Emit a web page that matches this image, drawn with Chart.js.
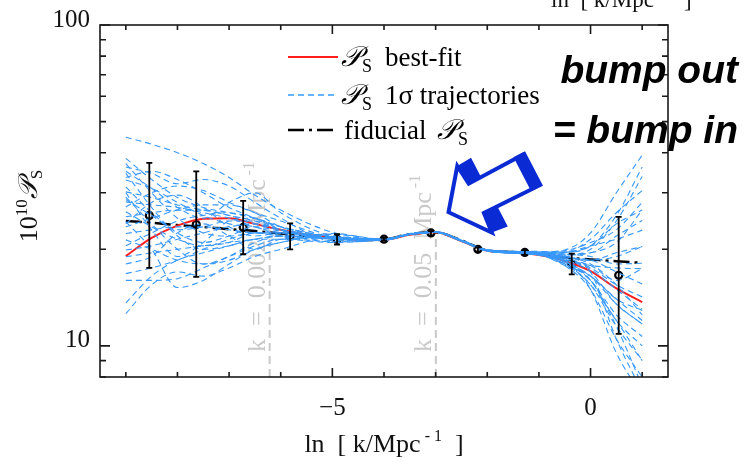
<!DOCTYPE html>
<html>
<head>
<meta charset="utf-8">
<script src="https://cdn.jsdelivr.net/npm/chart.js@4/dist/chart.umd.min.js"></script>
<style>
  html, body { margin: 0; padding: 0; background: #fff; }
  canvas { display: block; }
</style>
</head>
<body>
<canvas id="c" width="750" height="464"></canvas>
<script>
// ---- data -----------------------------------------------------------------
// ln k grid used for the fiducial and best-fit spectra
const lnkGrid = [-9, -8.5, -8, -7.5, -7, -6.5, -6, -5.5, -5, -4.5, -4, -3.5, -3, -2.5, -2, -1.5, -1, -0.5, 0, 0.5, 1];
const fiducialPS = [24.5, 24.2, 23.8, 23.5, 23.1, 22.8, 22.4, 22.0, 21.65, 21.35, 21.45, 22.3, 22.6, 21.3, 19.85, 19.6, 19.4, 18.85, 18.6, 18.35, 18.15];
const bestFitPS = [19.05, 21.7, 23.7, 24.9, 25.0, 24.0, 23.0, 22.2, 21.8, 21.4, 21.4, 22.2, 22.6, 21.2, 19.8, 19.6, 19.2, 18.4, 17.1, 15.1, 13.7];

// binned reconstruction: centres, values and 1-sigma limits
const binLnk = [-8.545, -7.636, -6.727, -5.818, -4.909, -4.0, -3.091, -2.182, -1.273, -0.364, 0.545];
const binPS = [25.5, 23.9, 23.4, 22.0, 21.5, 21.5, 22.5, 20.0, 19.55, 18.0, 16.6];
const binLow = [17.5, 16.4, 19.3, 20.0, 20.7, 21.3, 22.1, 19.7, 19.2, 16.7, 10.9];
const binHigh = [37.2, 35.0, 28.3, 24.1, 22.3, 21.7, 22.8, 20.3, 19.9, 19.4, 25.25];

// ln k grid and values of the 1-sigma trajectories
const trajLnk = [-9, -8.5, -8, -7.5, -7, -6.5, -6, -5, -4, -3.5, -3, -2.5, -2, -1, -0.5, 0, 0.5, 1];
const trajectoryPS = [
  [44.7, 42.5, 40.0, 37.0, 33.5, 29.5, 26.5, 22.6, 21.5, 22.3, 22.7, 21.3, 19.9, 19.5, 19.6, 21.5, 26.0, 30.5],
  [38.4, 33.0, 29.0, 27.0, 26.0, 25.0, 23.5, 21.9, 21.4, 22.3, 22.6, 21.3, 19.8, 19.2, 18.2, 16.5, 13.5, 11.7],
  [36.1, 34.5, 32.0, 33.0, 31.5, 28.0, 25.0, 21.3, 21.5, 22.4, 22.7, 21.4, 19.9, 19.6, 19.9, 22.5, 30.0, 39.3],
  [34.5, 27.0, 22.0, 20.0, 20.5, 21.5, 21.5, 21.7, 21.4, 22.3, 22.6, 21.3, 19.8, 19.4, 18.6, 17.3, 15.0, 13.0],
  [32.9, 31.0, 28.0, 25.5, 24.0, 23.5, 22.0, 21.2, 21.5, 22.3, 22.6, 21.2, 19.8, 19.3, 18.0, 15.5, 11.5, 9.0],
  [31.3, 26.0, 22.5, 21.0, 22.0, 23.5, 22.8, 22.0, 21.4, 22.2, 22.6, 21.3, 19.9, 19.6, 19.3, 19.5, 22.0, 24.6],
  [30.2, 29.0, 27.5, 26.5, 25.5, 24.0, 23.0, 21.6, 21.4, 22.3, 22.6, 21.3, 19.8, 19.2, 18.5, 17.8, 17.5, 17.4],
  [29.1, 24.0, 20.0, 18.0, 18.5, 20.0, 21.0, 22.3, 21.5, 22.3, 22.6, 21.3, 19.9, 19.7, 19.6, 20.5, 24.0, 26.5],
  [28.1, 27.5, 27.0, 26.0, 25.0, 23.5, 22.5, 21.1, 21.4, 22.3, 22.6, 21.2, 19.8, 19.2, 17.8, 15.0, 10.5, 8.0],
  [27.1, 30.0, 31.5, 30.5, 28.0, 26.0, 23.5, 21.6, 21.5, 22.3, 22.6, 21.3, 19.9, 19.5, 19.0, 18.5, 19.0, 20.4],
  [26.2, 23.5, 21.5, 20.5, 21.0, 22.5, 22.0, 21.9, 21.4, 22.3, 22.7, 21.3, 19.8, 19.3, 18.3, 16.0, 12.5, 10.7],
  [25.25, 26.0, 26.5, 26.5, 25.5, 24.5, 23.0, 21.6, 21.4, 22.2, 22.6, 21.3, 19.8, 19.4, 19.2, 20.0, 24.5, 33.7],
  [24.4, 20.0, 15.2, 16.0, 18.0, 20.0, 21.0, 22.4, 21.5, 22.3, 22.6, 21.3, 19.9, 19.5, 18.8, 17.5, 15.5, 14.2],
  [23.5, 25.0, 26.5, 27.5, 27.5, 26.0, 24.5, 21.8, 21.4, 22.3, 22.6, 21.3, 19.8, 19.3, 18.0, 15.5, 12.0, 9.0],
  [22.4, 23.0, 23.5, 23.5, 23.0, 22.5, 22.5, 21.6, 21.4, 22.3, 22.6, 21.3, 19.8, 19.4, 19.5, 20.5, 21.5, 22.95],
  [21.4, 20.0, 18.5, 18.0, 19.0, 20.5, 21.5, 21.0, 21.5, 22.3, 22.6, 21.3, 19.9, 19.4, 18.5, 16.0, 11.5, 7.5],
  [19.9, 20.5, 21.5, 22.5, 23.5, 24.0, 23.0, 21.6, 21.4, 22.3, 22.6, 21.2, 19.8, 19.5, 19.3, 19.0, 18.0, 18.1],
  [18.95, 19.5, 20.0, 20.5, 21.0, 21.5, 22.0, 21.7, 21.4, 22.3, 22.6, 21.3, 19.8, 19.3, 18.5, 17.0, 13.5, 11.7],
  [16.8, 17.5, 18.5, 20.0, 21.5, 22.5, 22.5, 21.6, 21.4, 22.3, 22.6, 21.3, 19.9, 19.6, 19.6, 20.5, 25.5, 36.1],
  [16.0, 16.0, 16.2, 17.5, 19.0, 21.0, 22.0, 21.7, 21.5, 22.2, 22.6, 21.3, 19.8, 19.3, 17.8, 16.5, 14.0, 12.9],
  [13.6, 16.5, 18.5, 19.5, 20.5, 21.5, 22.0, 21.7, 21.4, 22.3, 22.6, 21.3, 19.9, 19.4, 18.8, 18.5, 17.0, 15.6],
  [12.6, 15.5, 17.0, 16.5, 17.5, 19.0, 20.0, 21.8, 21.5, 22.3, 22.6, 21.3, 19.8, 19.2, 18.0, 16.0, 12.0, 10.0],
  [37.0, 30.0, 25.0, 22.5, 22.0, 22.5, 22.0, 21.6, 21.4, 22.3, 22.6, 21.3, 19.8, 19.4, 19.0, 18.5, 19.5, 20.4],
  [33.5, 35.0, 33.0, 30.0, 27.0, 25.0, 23.0, 21.5, 21.4, 22.3, 22.6, 21.3, 19.9, 19.5, 18.5, 15.0, 9.5, 7.0],
  [28.6, 25.5, 23.0, 23.5, 24.5, 24.5, 23.5, 21.8, 21.5, 22.3, 22.6, 21.3, 19.8, 19.4, 19.2, 19.5, 21.0, 26.5],
  [20.5, 22.5, 24.5, 25.5, 26.0, 25.0, 23.5, 21.6, 21.4, 22.3, 22.6, 21.2, 19.8, 19.3, 18.7, 17.8, 16.0, 17.4],
  [35.0, 31.0, 27.0, 25.0, 28.0, 30.0, 26.0, 22.0, 21.4, 22.3, 22.6, 21.3, 19.8, 19.3, 18.3, 16.5, 14.0, 12.0],
  [24.0, 28.0, 29.5, 27.0, 23.5, 22.0, 22.5, 21.7, 21.5, 22.3, 22.6, 21.3, 19.9, 19.6, 19.8, 21.0, 23.0, 28.0],
  [18.0, 19.0, 22.5, 24.0, 22.0, 20.0, 21.5, 21.8, 21.4, 22.3, 22.6, 21.2, 19.8, 19.4, 18.9, 18.0, 15.5, 12.5],
  [30.0, 23.0, 19.0, 21.0, 24.5, 25.0, 23.0, 21.6, 21.4, 22.3, 22.6, 21.3, 19.8, 19.5, 19.1, 17.0, 10.5, 7.2]
];

// pivot-scale markers (k in Mpc^-1) and the spectrum value where each marker stops
const pivotK = [0.002, 0.05];
const pivotText = ['k  =  0.002  Mpc', 'k  =  0.05  Mpc'];
const pivotTopPS = [23.0, 22.6];

// axis ticks
const xTickValues = [-9, -8, -7, -6, -5, -4, -3, -2, -1, 0, 1];
const xTickLabels = {'-5': '\u22125', '0': '0'};
const yTickValues = [8, 9, 10, 20, 30, 40, 50, 60, 70, 80, 90, 100];
const yTickLabels = {'10': '10', '100': '100'};

// ---- styling helpers --------------------------------------------------------
const SERIF = '"Liberation Serif", "Times New Roman", serif';
const SCRIPT = '"DejaVu Serif", "DejaVu Sans", "Noto Sans", serif';
const BLUE = 'rgb(55,152,252)';
const RED = '#ff1f1f';

function richWidth(ctx, parts) {
  let w = 0;
  for (const p of parts) { ctx.font = p.f; w += ctx.measureText(p.t).width + (p.gap || 0); }
  return w;
}
function drawRich(ctx, parts, x, y, align) {
  const w = richWidth(ctx, parts);
  let cx = align === 'center' ? x - w / 2 : align === 'right' ? x - w : x;
  ctx.textAlign = 'left';
  ctx.textBaseline = 'alphabetic';
  for (const p of parts) {
    ctx.font = p.f;
    ctx.fillText(p.t, cx, y + (p.dy || 0));
    cx += ctx.measureText(p.t).width + (p.gap || 0);
  }
  return cx;
}
const PS = (size) => [
  {t: '\u{1D4AB}', f: 'italic ' + size + 'px ' + SCRIPT, gap: 1},
  {t: 'S', f: Math.round(size * 0.64) + 'px ' + SERIF, dy: Math.round(size * 0.2)}
];
const xTitleParts = (size) => [
  {t: 'ln  [ k/Mpc', f: size + 'px ' + SERIF},
  {t: ' - 1', f: Math.round(size * 0.62) + 'px ' + SERIF, dy: -Math.round(size * 0.42)},
  {t: '  ]', f: size + 'px ' + SERIF}
];

// ---- datasets -------------------------------------------------------------
const toXY = (xs, ys) => xs.map((v, i) => ({x: v, y: ys[i]}));
const datasets = [];
trajectoryPS.forEach((vals) => {
  datasets.push({
    data: toXY(trajLnk, vals), borderColor: BLUE, borderWidth: 1.1,
    borderDash: [6, 4], pointRadius: 0, cubicInterpolationMode: 'monotone', fill: false
  });
});
datasets.push({
  data: toXY(lnkGrid, bestFitPS), borderColor: RED, borderWidth: 2,
  pointRadius: 0, cubicInterpolationMode: 'monotone', fill: false
});
datasets.push({
  data: toXY(lnkGrid, fiducialPS), borderColor: '#000', borderWidth: 2.5,
  borderDash: [16, 5, 3, 5], pointRadius: 0, cubicInterpolationMode: 'monotone', fill: false
});
datasets.push({
  data: toXY(binLnk, binPS), showLine: false, pointRadius: 3.5, pointBorderWidth: 2.2,
  pointBorderColor: '#000', pointBackgroundColor: 'rgba(255,255,255,0.5)'
});

// ---- drawing of frame, ticks, labels and annotations -------------------------
const decor = {
  id: 'decor',
  beforeDatasetsDraw(chart) {
    const {ctx, chartArea: a, scales: {x, y}} = chart;
    ctx.save();
    pivotK.forEach((k, i) => {
      const px = x.getPixelForValue(Math.log(k));
      ctx.strokeStyle = '#c9c9c9';
      ctx.lineWidth = 2;
      ctx.setLineDash([8, 5]);
      ctx.beginPath();
      ctx.moveTo(px, a.bottom);
      ctx.lineTo(px, y.getPixelForValue(pivotTopPS[i]));
      ctx.stroke();
      ctx.setLineDash([]);
      ctx.save();
      ctx.translate(px - 5, a.bottom - 25);
      ctx.rotate(-Math.PI / 2);
      ctx.fillStyle = '#c9c9c9';
      drawRich(ctx, [
        {t: pivotText[i], f: '26px ' + SERIF},
        {t: ' -1', f: '16px ' + SERIF, dy: -11}
      ], 0, 0, 'left');
      ctx.restore();
    });
    ctx.restore();
  },
  afterDatasetsDraw(chart) {
    const {ctx, scales: {x, y}} = chart;
    ctx.save();
    ctx.strokeStyle = '#000';
    ctx.lineWidth = 1.8;
    binLnk.forEach((v, i) => {
      const px = x.getPixelForValue(v);
      const lo = y.getPixelForValue(binLow[i]);
      const hi = y.getPixelForValue(binHigh[i]);
      ctx.beginPath();
      ctx.moveTo(px, lo); ctx.lineTo(px, hi);
      ctx.moveTo(px - 3, lo); ctx.lineTo(px + 3, lo);
      ctx.moveTo(px - 3, hi); ctx.lineTo(px + 3, hi);
      ctx.stroke();
    });
    ctx.restore();
  },
  afterDraw(chart) {
    const {ctx, chartArea: a, scales: {x, y}} = chart;
    ctx.save();
    // frame with inward ticks on all four sides
    ctx.strokeStyle = '#1a1a1a';
    ctx.lineWidth = 1.6;
    ctx.strokeRect(a.left, a.top, a.right - a.left, a.bottom - a.top);
    ctx.beginPath();
    xTickValues.forEach((v) => {
      const px = x.getPixelForValue(v);
      const len = (v % 5 === 0) ? 9 : 5;
      ctx.moveTo(px, a.bottom); ctx.lineTo(px, a.bottom - len);
      ctx.moveTo(px, a.top); ctx.lineTo(px, a.top + len);
    });
    yTickValues.forEach((v) => {
      const py = y.getPixelForValue(v);
      const len = (v === 10 || v === 100) ? 10 : 6;
      ctx.moveTo(a.left, py); ctx.lineTo(a.left + len, py);
      ctx.moveTo(a.right, py); ctx.lineTo(a.right - len, py);
    });
    ctx.stroke();

    ctx.fillStyle = '#111';
    // x-axis title
    drawRich(ctx, xTitleParts(26), 384, 452, 'center');
    // partly visible title of the companion panel above
    drawRich(ctx, xTitleParts(23), 551, 6.5, 'left');

    // y-axis title
    ctx.save();
    ctx.translate(37, 206);
    ctx.rotate(-Math.PI / 2);
    drawRich(ctx, [
      {t: '10', f: '26px ' + SERIF},
      {t: '10', f: '17px ' + SERIF, dy: -10}
    ].concat(PS(27)), 0, 0, 'center');
    ctx.restore();

    // legend
    const rows = [
      {base: 66, color: RED, width: 2, dash: [], label: 'best-fit'},
      {base: 104, color: BLUE, width: 1.3, dash: [6, 4], label: '1\u03C3 trajectories'},
      {base: 139, color: '#000', width: 2.5, dash: [16, 5, 3, 5], label: null}
    ];
    rows.forEach((r) => {
      ctx.strokeStyle = r.color;
      ctx.lineWidth = r.width;
      ctx.setLineDash(r.dash);
      ctx.beginPath();
      ctx.moveTo(288, r.base - 9);
      ctx.lineTo(338, r.base - 9);
      ctx.stroke();
      ctx.setLineDash([]);
      ctx.fillStyle = '#000';
      if (r.label) {
        drawRich(ctx, PS(28), 341, r.base, 'left');
        drawRich(ctx, [{t: r.label, f: '27px ' + SERIF}], 385, r.base, 'left');
      } else {
        drawRich(ctx, [{t: 'fiducial', f: '27px ' + SERIF}], 344, r.base, 'left');
        drawRich(ctx, PS(28), 437, r.base, 'left');
      }
    });

    // block arrow pointing at the feature near k = 0.05
    const tip = {x: x.getPixelForValue(-2.75), y: y.getPixelForValue(26.1)};
    const d = [0.888, -0.460], n = [0.460, 0.888];
    const P = (u, v) => [tip.x + u * d[0] + v * n[0], tip.y + u * d[1] + v * n[1]];
    const poly = (pts) => {
      ctx.beginPath();
      pts.forEach((p, i) => { const q = P(p[0], p[1]); if (i) ctx.lineTo(q[0], q[1]); else ctx.moveTo(q[0], q[1]); });
      ctx.closePath();
    };
    ctx.strokeStyle = '#0a2bd3';
    ctx.fillStyle = '#0a2bd3';
    ctx.lineWidth = 4;
    ctx.lineJoin = 'miter';
    poly([[0, 0], [29, -37], [31, -16], [94, -17], [94, 18], [31, 17], [29, 38]]);
    ctx.stroke();
    poly([[29, -37], [45, -38], [45, -16], [31, -16]]); ctx.fill();
    poly([[31, 17], [46, 18], [46, 40], [29, 38]]); ctx.fill();
    poly([[83, -19], [95, -19], [95, 19], [83, 19]]); ctx.fill();

    // annotation
    ctx.fillStyle = '#000';
    ctx.font = 'italic bold 39px "Liberation Sans", Arial, sans-serif';
    ctx.textAlign = 'right';
    ctx.textBaseline = 'alphabetic';
    ctx.fillText('bump out', 738, 83);
    ctx.fillText('= bump in', 738, 143);
    ctx.restore();
  }
};

// ---- chart ----------------------------------------------------------------
new Chart(document.getElementById('c'), {
  type: 'line',
  data: {datasets},
  plugins: [decor],
  options: {
    responsive: false,
    devicePixelRatio: 1,
    animation: false,
    layout: {padding: {left: 0, right: 82, top: 25, bottom: 0}},
    plugins: {legend: {display: false}, tooltip: {enabled: false}},
    scales: {
      x: {
        type: 'linear', min: -9.5, max: 1.5,
        grid: {display: false, drawTicks: false},
        border: {display: false},
        afterBuildTicks: (s) => { s.ticks = xTickValues.map((v) => ({value: v})); },
        afterFit: (s) => { s.height = 87; },
        ticks: {
          autoSkip: false, maxRotation: 0, padding: 16, color: '#111',
          font: {family: 'Liberation Serif', size: 25},
          callback: (v) => xTickLabels[String(v)] || ''
        }
      },
      y: {
        type: 'logarithmic', min: 8, max: 100,
        grid: {display: false, drawTicks: false},
        border: {display: false},
        afterBuildTicks: (s) => { s.ticks = yTickValues.map((v) => ({value: v})); },
        afterFit: (s) => { s.width = 100; },
        ticks: {
          autoSkip: false, padding: 10, labelOffset: -5, color: '#111',
          font: {family: 'Liberation Serif', size: 25},
          callback: (v) => yTickLabels[String(v)] || ''
        }
      }
    }
  }
});
</script>
</body>
</html>
